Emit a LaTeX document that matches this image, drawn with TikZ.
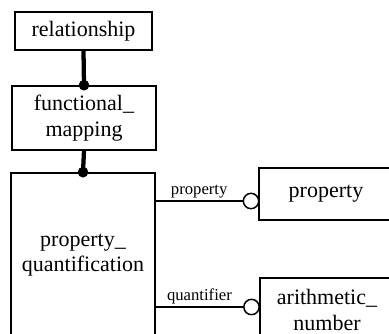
\documentclass[tikz,border=0pt]{standalone}
\usepackage{fontspec}
\setmainfont{Liberation Serif}

\begin{document}
\begin{tikzpicture}[x=0.75pt,y=-0.75pt,
  entity/.style={draw,line width=1.2pt,align=center,inner sep=0pt,
    font=\fontsize{16.5}{19}\selectfont},
  thickline/.style={line width=3.2pt},
  link/.style={line width=1.1pt},
  dot/.style={circle,fill=black,inner sep=0pt,minimum size=8pt},
  opt/.style={circle,draw,fill=white,line width=1.1pt,inner sep=0pt,minimum size=11.5pt},
  lbl/.style={font=\fontsize{12.5}{14}\selectfont,inner sep=1.5pt}]
  \useasboundingbox (0,0) rectangle (389,333);
  \clip (0,0) rectangle (389,333);
  % entities
  \node[entity,minimum width=102.75pt,minimum height=28.5pt] (rel) at (83.5,31) {relationship};
  \node[entity,minimum width=108pt,minimum height=48pt] (fm) at (84,118) {functional\_\\mapping};
  \node[entity,minimum width=108pt,minimum height=123pt] (pq) at (83,255) {property\_\\quantification};
  \node[entity,minimum width=100.5pt,minimum height=39pt] (prop) at (326,194) {property};
  \node[entity,minimum width=100.5pt,minimum height=48pt] (num) at (327,310) {arithmetic\_\\number};
  % supertype links
  \draw[thickline] (rel.south) -- (fm.north);
  \node[dot] (d1) at (fm.north) {};
  \draw[thickline] (fm.south) -- (pq.north);
  \node[dot] (d2) at (pq.north) {};
  % attributes
  \node[opt] (o1) at (251,201) {};
  \node[opt] (o2) at (251.5,307) {};
  \draw[link] (pq.east |- o1) -- node[above,lbl] {property} (o1.west);
  \draw[link] (pq.east |- o2) -- node[above,lbl] {quantifier} (o2.west);
\end{tikzpicture}
\end{document}
